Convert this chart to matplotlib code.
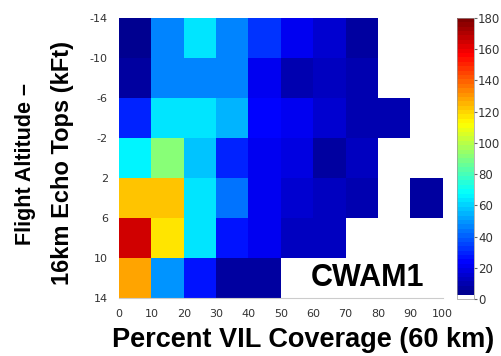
import numpy as np
import matplotlib.pyplot as plt
from matplotlib.colors import ListedColormap

plt.rcParams['axes.unicode_minus'] = False

# 数据: 行 = 高度区间 (-14 .. 14, 步长4), 列 = VIL覆盖率 (0 .. 100, 步长10)
x_edges = [0, 10, 20, 30, 40, 50, 60, 70, 80, 90, 100]
y_edges = [-14, -10, -6, -2, 2, 6, 10, 14]
nan = np.nan
row_m14 = [5, 45, 62, 45, 32, 22, 15, 8, nan, nan]
row_m10 = [6, 45, 45, 45, 22, 10, 14, 10, nan, nan]
row_m6 = [30, 63, 64, 56, 24, 20, 15, 11, 9, nan]
row_m2 = [66, 90, 57, 30, 22, 18, 7, 14, nan, nan]
row_2 = [122, 122, 63, 44, 22, 16, 14, 10, nan, 8]
row_6 = [164, 118, 64, 28, 22, 12, 12, nan, nan, nan]
row_10 = [129, 48, 28, 8, 8, nan, nan, nan, nan, nan]
counts = np.array([row_m14, row_m10, row_m6, row_m2, row_2, row_6, row_10])

ticks_x = [0, 10, 20, 30, 40, 50, 60, 70, 80, 90, 100]
ticks_y = [-14, -10, -6, -2, 2, 6, 10, 14]
cbar_ticks = [0, 20, 40, 60, 80, 100, 120, 140, 160, 180]


def matlab_jet(n=64):
    """MATLAB风格 jet 色图"""
    t = np.linspace(0, 1, n)
    r = np.clip(np.minimum(4 * t - 1.5, -4 * t + 4.5), 0, 1)
    g = np.clip(np.minimum(4 * t - 0.5, -4 * t + 3.5), 0, 1)
    b = np.clip(np.minimum(4 * t + 0.5, -4 * t + 2.5), 0, 1)
    return np.column_stack([r, g, b, np.ones(n)])


# 最低一格为白色
colors = matlab_jet(64)
colors[0] = [1, 1, 1, 1]
cmap = ListedColormap(colors)
cmap.set_bad('white')

fig = plt.figure(figsize=(5.02, 3.56), dpi=100)
ax = fig.add_axes([0.237, 0.163, 0.645, 0.787])
mesh = ax.pcolormesh(x_edges, y_edges, np.ma.masked_invalid(counts),
                     cmap=cmap, vmin=0, vmax=180)
ax.set_xlim(0, 100)
ax.set_ylim(14, -14)
ax.set_xticks(ticks_x)
ax.set_yticks(ticks_y)
ax.tick_params(length=0, labelsize=8, labelcolor='#333333')
ax.tick_params(axis='x', pad=8)
ax.tick_params(axis='y', pad=8)
for s in ['top', 'right', 'left']:
    ax.spines[s].set_visible(False)
ax.spines['bottom'].set_color('#cccccc')

ax.text(76.9, 12.0, 'CWAM1', fontsize=22, fontweight='bold', ha='center', va='center',
        family='Liberation Sans')
fig.text(0.604, 0.045, 'Percent VIL Coverage (60 km)', fontsize=19.5, fontweight='bold',
         family='Liberation Sans', ha='center', va='center')
fig.text(0.05, 0.54, 'Flight Altitude \u2013', rotation=90, fontsize=15.5,
         fontweight='bold', family='Liberation Sans', ha='center', va='center')
fig.text(0.124, 0.543, '16km Echo Tops (kFt)', rotation=90, fontsize=17,
         fontweight='bold', family='Liberation Sans', ha='center', va='center')

cax = fig.add_axes([0.910, 0.160, 0.034, 0.790])
cb = fig.colorbar(mesh, cax=cax, ticks=cbar_ticks)
cb.outline.set_edgecolor('#999999')
cb.outline.set_linewidth(0.5)
cax.tick_params(length=2, labelsize=8.5, labelcolor='#333333', color='#666666', pad=1)

fig.savefig('out.png', dpi=100)
